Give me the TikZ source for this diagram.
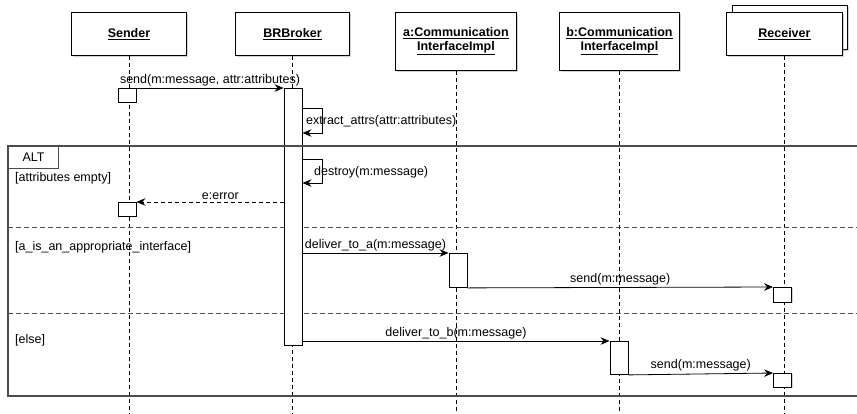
\documentclass[tikz,border=0pt]{standalone}
\usepackage{fontspec}
\setmainfont{Liberation Sans}
\usetikzlibrary{arrows.meta,shadows}
\tikzset{
  objbox/.style={draw=black, fill=white, line width=0.9pt, anchor=north west, minimum height=43pt, align=center, font=\fontsize{12.5}{14}\selectfont\bfseries, drop shadow={shadow xshift=1.2pt, shadow yshift=-1.2pt, opacity=0.35}},
  actbox/.style={draw=black, fill=white, line width=0.9pt, anchor=north, minimum width=18pt, inner sep=0pt, drop shadow={shadow xshift=1pt, shadow yshift=-1pt, opacity=0.35}},
  msg/.style={line width=0.8pt, -{Stealth[length=9pt, width=7.5pt, inset=3pt]}},
  reply/.style={msg, dash pattern=on 4pt off 3pt},
  lifeline/.style={line width=0.8pt, dash pattern=on 4pt off 3pt},
  sepline/.style={line width=0.9pt, draw=black!70, dash pattern=on 5pt off 3pt},
  framebox/.style={line width=1.1pt, draw=black!70},
  lbl/.style={font=\fontsize{12.5}{14}\selectfont, inner sep=2pt},
  guard/.style={lbl, anchor=west}
}

\begin{document}
\begin{tikzpicture}[x=1pt, y=-1pt]
  \useasboundingbox (0,0) rectangle (857,413);
  \coordinate (bottom) at (0,413);

  \node[objbox, minimum width=115pt] (sender) at (71,12) {\underline{Sender}};
  \node[objbox, minimum width=114pt] (broker) at (235,12) {\underline{BRBroker}};
  \node[objbox, minimum width=121pt, minimum height=58pt] (ifa) at (395,12) {\underline{a:Communication}\\\underline{InterfaceImpl}};
  \node[objbox, minimum width=120pt, minimum height=58pt] (ifb) at (559,12) {\underline{b:Communication}\\\underline{InterfaceImpl}};
  \node[objbox, minimum width=115pt, minimum height=44pt] (recvback) at (732,5) {};
  \node[objbox, minimum width=116pt] (receiver) at (726,12) {\underline{Receiver}};

  \draw[lifeline] (sender.south) -- (sender.south |- bottom);
  \draw[lifeline] (broker.south) -- (broker.south |- bottom);
  \draw[lifeline] (ifa.south) -- (ifa.south |- bottom);
  \draw[lifeline] (ifb.south) -- (ifb.south |- bottom);
  \draw[lifeline] (receiver.south) -- (receiver.south |- bottom);

  \draw[sepline] (8,227) -- (857,227);
  \draw[sepline] (8,313) -- (857,313);

  \node[actbox, minimum height=14pt] (sendact1) at (127,88) {};
  \node[actbox, minimum height=257pt] (brokeract) at (293,88) {};
  \node[actbox, minimum height=14pt] (sendact2) at (127,202) {};
  \node[actbox, minimum height=34pt] (aact) at (458,253) {};
  \node[actbox, minimum height=15pt] (recvact1) at (782.5,287) {};
  \node[actbox, minimum height=33pt] (bact) at (619,341) {};
  \node[actbox, minimum height=14pt] (recvact2) at (782.5,373) {};

  \draw[framebox] (857,146) -- (8,146) -- (8,396) -- (857,396);
  \node[framebox, draw, fill=white, anchor=north west, minimum width=50pt, minimum height=22pt, lbl] (alt) at (8,146) {ALT};
  \node[guard] (g1) at (13,178) {[attributes empty]};
  \node[guard] (g2) at (13,247) {[a\_is\_an\_appropriate\_interface]};
  \node[guard] (g3) at (13,340) {[else]};

  \draw[msg] (sendact1.north east) -- node[lbl, above] {send(m:message, attr:attributes)} (brokeract.north west);
  \draw[msg] (brokeract.east |- 0,108) -- ++(20,0) -- ++(0,25) -- (brokeract.east |- 0,133);
  \node[lbl, anchor=west] (extractlbl) at (304,121) {extract\_attrs(attr:attributes)};
  \draw[msg] (brokeract.east |- 0,159) -- ++(20,0) -- ++(0,24) -- (brokeract.east |- 0,183);
  \node[lbl, anchor=west] (destroylbl) at (312,172) {destroy(m:message)};
  \draw[reply] (brokeract.west |- sendact2.north) -- node[lbl, above, pos=0.43] {e:error} (sendact2.north east);
  \draw[msg] (brokeract.east |- aact.north) -- node[lbl, above] {deliver\_to\_a(m:message)} (aact.north west);
  \draw[msg] (aact.south east) -- node[lbl, above] {send(m:message)} (recvact1.north west);
  \draw[msg] (brokeract.east |- bact.north) -- node[lbl, above] {deliver\_to\_b(m:message)} (bact.north west);
  \draw[msg] (bact.south east) -- node[lbl, above] {send(m:message)} (recvact2.north west);
\end{tikzpicture}
\end{document}
